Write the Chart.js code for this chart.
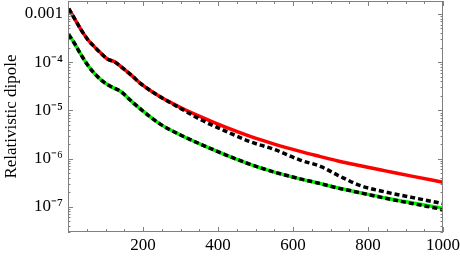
<!DOCTYPE html>
<html><head><meta charset="utf-8">
<script src="https://cdn.jsdelivr.net/npm/chart.js@4"></script>
<style>html,body{margin:0;padding:0;background:#fff}#wrap{width:460px;height:278px}</style>
</head><body><div id="wrap"><canvas id="c" width="460" height="278"></canvas></div>
<script>
// ---- data ----
const xValues      = [2, 17, 35, 52, 70, 88, 106, 123, 141, 168, 193, 246, 300, 353, 420, 486, 550, 619, 673, 720, 780, 850, 920, 1000];
const redSeries    = [1.29e-3, 8.15e-4, 4.67e-4, 2.99e-4, 2.10e-4, 1.53e-4, 1.15e-4, 1.03e-4, 8.1e-5, 5.46e-5, 3.63e-5, 1.91e-5, 1.15e-5, 7.4e-6, 4.47e-6, 2.88e-6, 2.0e-6, 1.41e-6, 1.1e-6, 8.9e-7, 7.1e-7, 5.5e-7, 4.27e-7, 3.24e-7];
const blackUpper   = [1.29e-3, 8.15e-4, 4.67e-4, 2.99e-4, 2.10e-4, 1.53e-4, 1.15e-4, 1.03e-4, 8.1e-5, 5.46e-5, 3.63e-5, 1.91e-5, 1.1e-5, 6.46e-6, 3.72e-6, 2.24e-6, 1.55e-6, 9.3e-7, 6.9e-7, 4.5e-7, 2.75e-7, 2.0e-7, 1.55e-7, 1.16e-7];
const greenSeries  = [3.72e-4, 2.47e-4, 1.42e-4, 8.8e-5, 5.9e-5, 4.3e-5, 3.39e-5, 2.9e-5, 2.46e-5, 1.58e-5, 1.07e-5, 5.19e-6, 3.09e-6, 2.0e-6, 1.2e-6, 7.6e-7, 5.25e-7, 3.8e-7, 3.02e-7, 2.45e-7, 1.95e-7, 1.51e-7, 1.2e-7, 9.3e-8];
const blackLower   = [3.72e-4, 2.47e-4, 1.42e-4, 8.8e-5, 5.9e-5, 4.3e-5, 3.39e-5, 2.9e-5, 2.46e-5, 1.58e-5, 1.07e-5, 5.19e-6, 3.09e-6, 2.0e-6, 1.2e-6, 7.6e-7, 5.25e-7, 3.8e-7, 3.02e-7, 2.45e-7, 1.95e-7, 1.48e-7, 1.16e-7, 8.8e-8];
const xTicks       = [200, 400, 600, 800, 1000];
const xTickLabels  = ['200', '400', '600', '800', '1000'];
const yTicks       = [1e-7, 1e-6, 1e-5, 1e-4, 1e-3];
const yTickLabels  = ['10\u207B\u2077', '10\u207B\u2076', '10\u207B\u2075', '10\u207B\u2074', '0.001'];
const yTitle       = 'Relativistic dipole';

const pts = arr => xValues.map((x, i) => ({x: x, y: arr[i]}));
const FONT = '"Liberation Serif", "Times New Roman", serif';

const framePlugin = {
  id: 'frame',
  afterDatasetsDraw(chart) {
    const ctx = chart.ctx, a = chart.chartArea;
    const xs = chart.scales.x, ys = chart.scales.y;
    ctx.save();
    ctx.strokeStyle = '#808080';
    ctx.lineWidth = 1;
    ctx.strokeRect(Math.round(a.left) + 0.5, Math.round(a.top) + 0.5, Math.round(a.right - a.left) - 1, Math.round(a.bottom - a.top) - 1);
    ctx.beginPath();
    for (let v = 0; v <= 1000; v += 50) {
      const px = Math.round(xs.getPixelForValue(v)) + 0.5;
      const len = (v % 200 === 0) ? 5 : 3;
      ctx.moveTo(px, a.bottom); ctx.lineTo(px, a.bottom - len);
      ctx.moveTo(px, a.top); ctx.lineTo(px, a.top + len);
    }
    for (let e = -8; e <= -3; e++) {
      for (let m = 1; m <= 9; m++) {
        const v = m * Math.pow(10, e);
        if (v < ys.min || v > ys.max) continue;
        const py = Math.round(ys.getPixelForValue(v)) + 0.5;
        const len = m === 1 ? 5 : 2.5;
        ctx.moveTo(a.left, py); ctx.lineTo(a.left + len, py);
        ctx.moveTo(a.right, py); ctx.lineTo(a.right - len, py);
      }
    }
    ctx.stroke();
    ctx.restore();
  }
};

const labelFor = (ticks, labels) => v => { const i = ticks.findIndex(t => Math.abs(t - v) <= Math.abs(t) * 1e-6); return i >= 0 ? labels[i] : ''; };

new Chart(document.getElementById('c'), {
  type: 'line',
  data: {
    datasets: [
      {data: pts(blackUpper), borderColor: '#000', borderWidth: 3.5, borderDash: [5, 3], order: 0},
      {data: pts(blackLower), borderColor: '#000', borderWidth: 3.5, borderDash: [5, 3], order: 0},
      {data: pts(redSeries), borderColor: '#ff0000', borderWidth: 3.5, order: 1},
      {data: pts(greenSeries), borderColor: '#00f000', borderWidth: 3.5, order: 1}
    ]
  },
  options: {
    responsive: false,
    animation: false,
    devicePixelRatio: 1,
    parsing: false,
    elements: {point: {radius: 0}, line: {cubicInterpolationMode: 'monotone', borderCapStyle: 'butt'}},
    layout: {padding: {top: 1, right: 17, left: 0, bottom: 0}},
    plugins: {legend: {display: false}, tooltip: {enabled: false}},
    scales: {
      x: {
        type: 'linear', min: 0, max: 1000,
        afterBuildTicks: s => { s.ticks = xTicks.map(v => ({value: v})); },
        afterFit: s => { s.height = 46; s.paddingLeft = 0; s.paddingRight = 0; },
        grid: {display: false, drawTicks: false},
        border: {display: false},
        ticks: {color: '#000', padding: 3, maxRotation: 0, autoSkip: false, font: {family: FONT, size: 17},
          callback: labelFor(xTicks, xTickLabels)}
      },
      y: {
        type: 'logarithmic', min: 3.03e-8, max: 1.859e-3,
        afterBuildTicks: s => { s.ticks = yTicks.map(v => ({value: v})); },
        afterFit: s => { s.width = 68; s.paddingTop = 0; s.paddingBottom = 0; },
        grid: {display: false, drawTicks: false},
        border: {display: false},
        ticks: {color: '#000', padding: 5, autoSkip: false, font: {family: FONT, size: 17},
          callback: labelFor(yTicks, yTickLabels)},
        title: {display: true, text: yTitle, color: '#000', font: {family: FONT, size: 17}, padding: {top: 1, bottom: 0}}
      }
    }
  },
  plugins: [framePlugin]
});
</script></body></html>
